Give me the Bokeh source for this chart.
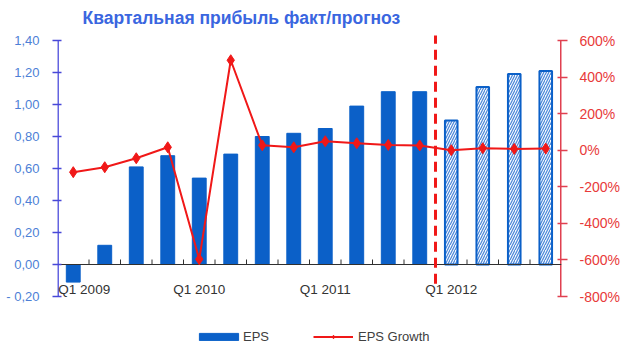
import numpy as np
from bokeh.plotting import figure
from bokeh.models import (Range1d, LinearAxis, FixedTicker, CustomJSTickFormatter,
                          ColumnDataSource, Legend, LegendItem, Span, Label)
from bokeh.embed import file_html
from bokeh.resources import INLINE
from bokeh.core.properties import value

# ---- data ----
quarters = ["Q1 2009", "Q2 2009", "Q3 2009", "Q4 2009",
            "Q1 2010", "Q2 2010", "Q3 2010", "Q4 2010",
            "Q1 2011", "Q2 2011", "Q3 2011", "Q4 2011",
            "Q1 2012", "Q2 2012", "Q3 2012", "Q4 2012"]
eps = [-0.11, 0.12, 0.61, 0.68, 0.54, 0.69, 0.80, 0.82,
       0.85, 0.99, 1.08, 1.08, 0.90, 1.11, 1.19, 1.21]
eps_growth = [-120, -93, -44, 16, -596, 492, 27, 16,
              49, 38, 29, 26, 0, 11, 7, 9]
n_actual = 12  # first 12 quarters are actual, rest forecast
left_ticks = [-0.2, 0.0, 0.2, 0.4, 0.6, 0.8, 1.0, 1.2, 1.4]
right_ticks = [-800, -600, -400, -200, 0, 200, 400, 600]
title_text = "Квартальная прибыль  факт/прогноз"

FONT = "Liberation Sans"
BAR_BLUE = "#0B60C8"
RED = "#F01818"

# layout (pixels): axes span 256 px; frame continues 40 px above and 57 px below
AXIS_PX, TOP_PX, BOT_PX = 256, 40, 57
FRAME_W = 504
l_lo, l_hi = left_ticks[0], left_ticks[-1]
r_lo, r_hi = right_ticks[0], right_ticks[-1]
l_per_px = (l_hi - l_lo) / AXIS_PX
r_per_px = (r_hi - r_lo) / AXIS_PX
l_min, l_max = l_lo - BOT_PX * l_per_px, l_hi + TOP_PX * l_per_px
r_min, r_max = r_lo - BOT_PX * r_per_px, r_hi + TOP_PX * r_per_px

xs = np.arange(len(quarters)) + 0.5
src_act = ColumnDataSource(dict(x=xs[:n_actual], eps=eps[:n_actual]))
src_fc = ColumnDataSource(dict(x=xs[n_actual:], eps=eps[n_actual:]))
src_g = ColumnDataSource(dict(x=xs, g=eps_growth))

p = figure(width=640, height=353, output_backend="svg", toolbar_location=None,
           x_range=Range1d(0, len(quarters)), y_range=Range1d(l_min, l_max),
           min_border_left=57, min_border_right=79, min_border_top=0, min_border_bottom=0,
           x_axis_location=None, y_axis_location=None)
p.outline_line_color = None
p.xgrid.visible = False
p.ygrid.visible = False
p.background_fill_color = "white"
p.border_fill_color = "white"

p.extra_y_ranges = {"g": Range1d(r_min, r_max)}

# title (drawn inside the frame, above the axes)
x_per_px = len(quarters) / FRAME_W
p.add_layout(Label(x=25 * x_per_px, y=l_hi + 23 * l_per_px, text=title_text,
                   text_font=FONT, text_font_size="17.5px", text_font_style="bold",
                   text_color="#3A66E0", text_align="left", text_baseline="middle"))

# left axis (line drawn separately so it stops at the lowest tick)
la = LinearAxis(ticker=FixedTicker(ticks=left_ticks),
                formatter=CustomJSTickFormatter(code="""
var s = Math.abs(tick).toFixed(2).replace('.', ',');
return tick < -1e-9 ? '- ' + s : s;
"""))
la.axis_line_color = None
la.major_tick_line_color = "#4848D8"
la.major_tick_line_width = 1.5
la.major_tick_in = 4
la.major_tick_out = 5
la.minor_tick_line_color = None
la.major_label_text_font = FONT
la.major_label_text_font_size = "13px"
la.major_label_text_color = "#4D7FD6"
la.major_label_standoff = 13
p.add_layout(la, "left")
p.segment(x0=[0], y0=[l_lo], x1=[0], y1=[l_hi], line_color="#6464E0", line_width=3)

# right axis
ra = LinearAxis(y_range_name="g", ticker=FixedTicker(ticks=right_ticks),
                formatter=CustomJSTickFormatter(code="return tick.toFixed(0) + '%';"))
ra.axis_line_color = None
ra.major_tick_line_color = "#E04050"
ra.major_tick_line_width = 1.5
ra.major_tick_in = 4
ra.major_tick_out = 6
ra.minor_tick_line_color = None
ra.major_label_text_font = FONT
ra.major_label_text_font_size = "14px"
ra.major_label_text_color = "#E83A3A"
ra.major_label_standoff = 12
p.add_layout(ra, "right")
p.segment(x0=[len(quarters)], y0=[r_lo], x1=[len(quarters)], y1=[r_hi],
          y_range_name="g", line_color="#E04050", line_width=3)

# bars
bars = p.vbar(x="x", top="eps", bottom=0, width=0.44, source=src_act,
              fill_color=BAR_BLUE, line_color=BAR_BLUE)
p.vbar(x="x", top="eps", bottom=0, width=0.40, source=src_fc,
       fill_color="#F4F8FD", line_color=BAR_BLUE, line_width=2,
       hatch_pattern="/", hatch_color="#4A86D8", hatch_scale=5, hatch_weight=1.2)

# zero baseline with category ticks
p.segment(x0=[0], y0=[0], x1=[len(quarters)], y1=[0], line_color="#303030", line_width=1)
bx = np.arange(1, len(quarters))
p.segment(x0=bx, y0=0, x1=bx, y1=5 * l_per_px, line_color="#303030", line_width=1)

# forecast divider
p.segment(x0=[n_actual], y0=[-0.12], x1=[n_actual], y1=[l_hi + 5 * l_per_px],
          line_color="#F01818", line_width=3, line_dash="10 6")

# growth line
ln = p.line(x="x", y="g", source=src_g, y_range_name="g", line_color=RED, line_width=2)
sc = p.scatter(x="x", y="g", source=src_g, y_range_name="g", marker="diamond",
               size=11, fill_color=RED, line_color=RED)

# x labels (Q1 only); the first one is nudged so it stays inside the frame
lab_x = [xs[i] for i, q in enumerate(quarters) if q.startswith("Q1")]
lab_t = [q for q in quarters if q.startswith("Q1")]
lab_off = [11] + [0] * (len(lab_t) - 1)
p.text(x=lab_x, y=[-0.156] * len(lab_x), text=lab_t, x_offset=lab_off,
       text_font=value(FONT), text_font_size="13.5px", text_color="#333333",
       text_align="center", text_baseline="middle")

# legends
common = dict(orientation="horizontal", glyph_height=9, label_height=9, padding=0, margin=0,
              border_line_color=None, background_fill_alpha=0, label_text_font=FONT,
              label_text_font_size="13px", label_text_color="#404040")
leg1 = Legend(items=[LegendItem(label="EPS", renderers=[bars])], location=(137, 9),
              glyph_width=49, label_standoff=0, **common)
leg2 = Legend(items=[LegendItem(label="EPS Growth", renderers=[ln, sc])], location=(256, 9),
              glyph_width=40, label_standoff=5, **common)
p.add_layout(leg1)
p.add_layout(leg2)

open("out.html", "w").write(file_html(p, INLINE))
